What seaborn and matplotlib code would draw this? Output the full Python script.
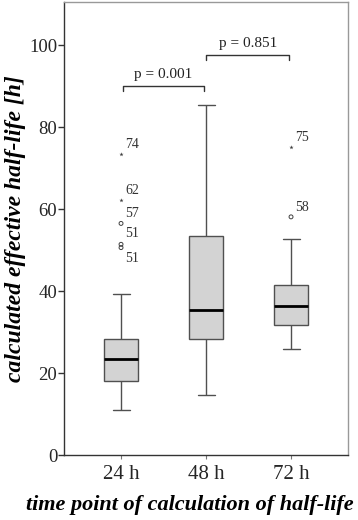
import numpy as np
import pandas as pd
import matplotlib
matplotlib.use('Agg')
import matplotlib.pyplot as plt
import seaborn as sns

# five-number summaries (min whisker, Q1, median, Q3, max whisker)
groups = ['24 h', '48 h', '72 h']
summary_24 = [11.1, 18.1, 23.3, 28.4, 39.2]
summary_48 = [14.6, 28.4, 35.3, 53.5, 85.5]
summary_72 = [25.8, 31.7, 36.4, 41.5, 52.6]

# outliers (circles) and extremes (stars) with their case labels
out_group = ['24 h', '24 h', '24 h', '72 h']
out_value = [56.5, 51.4, 50.6, 58.1]
out_label = ['57', '51', '51', '58']
ext_group = ['24 h', '24 h', '72 h']
ext_value = [73.4, 62.1, 75.1]
ext_label = ['74', '62', '75']

p_texts = ['p = 0.001', 'p = 0.851']
yticks = [0, 20, 40, 60, 80, 100]

df = pd.DataFrame({
    'group': np.repeat(groups, 5),
    'value': summary_24 + summary_48 + summary_72,
})

sns.set_style('white')
plt.rcParams['font.family'] = ['Liberation Serif', 'DejaVu Serif']

fig = plt.figure(figsize=(3.58, 5.2), dpi=100)
ax = fig.add_axes([0.179, 0.125, 0.793, 0.871])

sns.boxplot(data=df, x='group', y='value', order=groups, whis=(0, 100),
            width=0.4, color='#d3d3d3', linecolor='#505050', linewidth=1,
            showfliers=False, saturation=1,
            medianprops=dict(color='black', linewidth=2), ax=ax)

pos = {g: i for i, g in enumerate(groups)}

# circles
ax.scatter([pos[g] for g in out_group], out_value, s=8, marker='o',
           facecolors='none', edgecolors='#404040', linewidths=0.7, zorder=3)
# stars
ax.scatter([pos[g] for g in ext_group], ext_value, s=10, marker='*',
           color='#404040', linewidths=0, zorder=3)

# case labels (offsets in points)
out_offsets = [(3, 7), (3, 8), (3, -8), (3, 7)]
ext_offsets = [(3, 7), (3, 7), (3, 7)]
for g, v, t, o in zip(out_group + ext_group, out_value + ext_value,
                      out_label + ext_label, out_offsets + ext_offsets):
    ax.annotate(t, (pos[g], v), xytext=o, textcoords='offset points',
                fontsize=10, color='#333333', ha='left', va='center')

# significance brackets
brackets = [(0.02, 0.98, 90.0), (1.0, 1.98, 97.6)]
for (x0, x1, y), txt in zip(brackets, p_texts):
    ax.plot([x0, x0, x1, x1], [y - 1.2, y, y, y - 1.2], color='#333333', lw=1)
    ax.text((x0 + x1) / 2, y + 1.3, txt, ha='center', va='bottom',
            fontsize=11, color='#222222')

ax.set_ylim(0, 110.5)
ax.set_xlim(-0.67, 2.67)
ax.set_yticks(yticks)
ax.tick_params(axis='y', direction='out', length=4, width=1, color='#333333',
               labelsize=13.5, pad=1, left=True)
ax.tick_params(axis='x', direction='out', length=3, width=0.8, color='#777777',
               labelsize=15, pad=4, bottom=True)

for s in ['left', 'bottom']:
    ax.spines[s].set_color('#333333')
    ax.spines[s].set_linewidth(1)
for s in ['top', 'right']:
    ax.spines[s].set_color('#999999')
    ax.spines[s].set_linewidth(1)

ax.set_xlabel('time point of calculation of half-life', fontsize=16,
              fontweight='bold', fontstyle='italic', color='black',
              va='center')
ax.xaxis.set_label_coords(0.443, -0.110)
ax.set_ylabel('calculated effective half-life [h]', fontsize=17,
              fontweight='bold', fontstyle='italic', labelpad=2, color='black')

fig.savefig('out.png', dpi=100)
